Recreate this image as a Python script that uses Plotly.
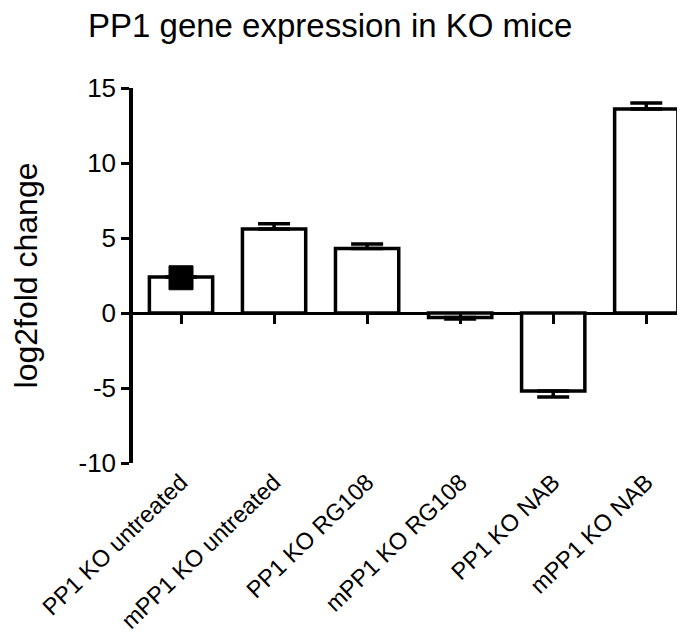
import plotly.graph_objects as go

categories = ["PP1 KO untreated", "mPP1 KO untreated", "PP1 KO RG108",
              "mPP1 KO RG108", "PP1 KO NAB", "mPP1 KO NAB"]
values = [2.4, 5.6, 4.3, -0.3, -5.2, 13.6]
err_up = [0.0, 0.35, 0.3, 0.0, 0.0, 0.4]
err_down = [0.0, 0.0, 0.0, 0.1, 0.4, 0.0]
marker_cat = ["PP1 KO untreated"]
marker_val = [2.35]
y_ticks = [-10, -5, 0, 5, 10, 15]
y_tick_labels = ["-10", "-5", "0", "5", "10", "15"]

FONT = "Arial, Liberation Sans, Helvetica, sans-serif"
ymin, ymax = -10, 15

fig = go.Figure()
fig.add_trace(go.Bar(
    x=categories, y=values, width=0.68,
    marker=dict(color="white", line=dict(color="black", width=3.5)),
    error_y=dict(type="data", symmetric=False, array=err_up, arrayminus=err_down,
                 color="black", thickness=3.5, width=16),
    showlegend=False, hoverinfo="x+y",
))
fig.add_trace(go.Scatter(
    x=marker_cat, y=marker_val, mode="markers", xaxis="x2",
    marker=dict(symbol="square", size=24, color="black",
                line=dict(color="black", width=1)),
    showlegend=False,
))

fig.update_layout(
    width=685, height=637,
    margin=dict(l=125, r=3, t=80, b=182, autoexpand=False),
    paper_bgcolor="white", plot_bgcolor="white",
    font=dict(family=FONT, color="black"),
    title=dict(text="PP1 gene expression in KO mice", x=80 / 685, xref="container",
               xanchor="left", y=1 - 17 / 637, yref="container", yanchor="middle",
               font=dict(size=33, color="black", family=FONT)),
    xaxis=dict(type="category", categoryorder="array", categoryarray=categories,
               range=[-0.516, 5.47], showline=False, showgrid=False, zeroline=False,
               ticks="", tickangle=-44, tickfont=dict(size=23.5), automargin=False),
    xaxis2=dict(type="category", categoryorder="array", categoryarray=categories,
                overlaying="x", matches="x", anchor="free",
                position=(0 - ymin) / (ymax - ymin), automargin=False,
                showline=False, showgrid=False, zeroline=False,
                ticks="outside", ticklen=10, tickwidth=3, tickcolor="black",
                showticklabels=False),
    yaxis=dict(range=[ymin, ymax], tickvals=y_ticks, ticktext=y_tick_labels,
               showgrid=False, showline=True, linewidth=3.5, linecolor="black",
               ticks="outside", ticklen=8, tickwidth=3, tickcolor="black",
               zeroline=True, zerolinewidth=3, zerolinecolor="black",
               tickfont=dict(size=26), automargin=False,
               title=dict(text="log2fold change", font=dict(size=32), standoff=36)),
)

fig.write_html("out.html")
